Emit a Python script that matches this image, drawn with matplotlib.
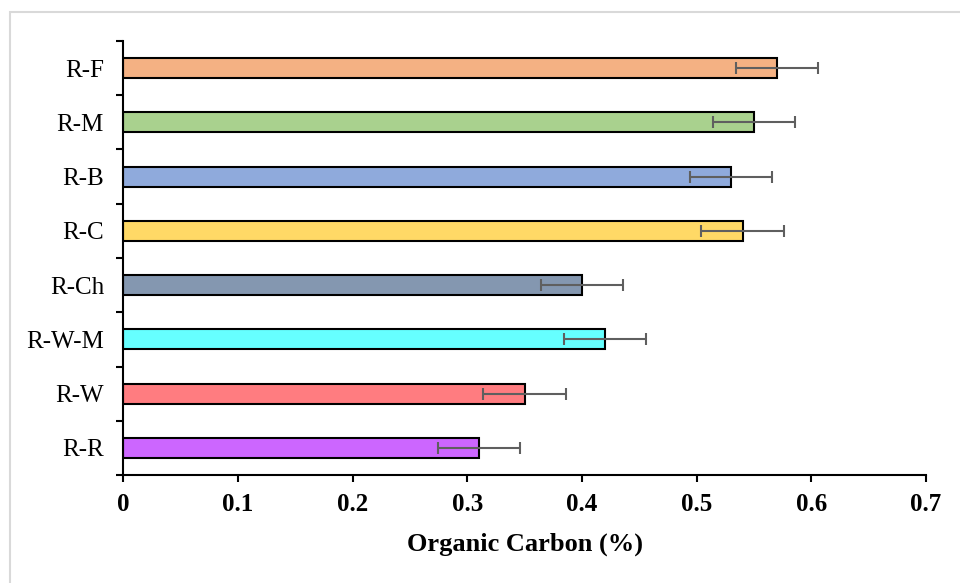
import numpy as np
import matplotlib.pyplot as plt
from matplotlib.patches import Rectangle

plt.rcParams['font.family'] = ['Liberation Serif', 'DejaVu Serif']

# categories bottom -> top
labels = ['R-R', 'R-W', 'R-W-M', 'R-Ch', 'R-C', 'R-B', 'R-M', 'R-F']
values = [0.31, 0.35, 0.42, 0.40, 0.54, 0.53, 0.55, 0.57]
errors = [0.036, 0.036, 0.036, 0.036, 0.036, 0.036, 0.036, 0.036]
colors = ['#CC66FF', '#FF7C80', '#66FFFF', '#8497B0',
          '#FFD966', '#8FAADC', '#A9D18E', '#F4B183']
xticks = [0, 0.1, 0.2, 0.3, 0.4, 0.5, 0.6, 0.7]

fig = plt.figure(figsize=(9.6, 5.83), dpi=100)
ax = fig.add_axes([0.1286, 0.1852, 0.836, 0.7445])

ypos = np.arange(len(labels))
ax.barh(ypos, values, height=0.37, color=colors, edgecolor='black',
        linewidth=1.5, zorder=2)
ax.errorbar(values, ypos, xerr=errors, fmt='none', ecolor='#5f5f5f',
            elinewidth=1.5, capsize=4, capthick=1.5, zorder=3)

ax.set_xlim(0, 0.7)
ax.set_ylim(-0.5, len(labels) - 0.5)
ax.set_xticks(xticks)
ax.set_xticklabels(['0' if t == 0 else '%.1f' % t for t in xticks],
                   fontsize=18, fontweight='bold')
ax.set_yticks(ypos)
ax.set_yticklabels(labels, fontsize=18)
ax.set_yticks(np.arange(-0.5, len(labels)), minor=True)
ax.tick_params(axis='y', which='major', length=0, pad=14)
ax.tick_params(axis='y', which='minor', length=5, width=1.5, direction='out')
ax.tick_params(axis='x', which='major', length=5, width=1.5, direction='out', pad=8)

for s in ['top', 'right']:
    ax.spines[s].set_visible(False)
for s in ['left', 'bottom']:
    ax.spines[s].set_linewidth(1.5)

ax.set_xlabel('Organic Carbon (%)', fontsize=19, fontweight='bold', labelpad=12)

# outer light-gray frame, cut off at right and bottom like the source
fig.patches.append(Rectangle((10 / 960, -0.1), 1.2, 1.1 - 12 / 583,
                             transform=fig.transFigure, fill=False,
                             edgecolor='#d9d9d9', linewidth=1.5))

fig.savefig('out.png', dpi=100)
